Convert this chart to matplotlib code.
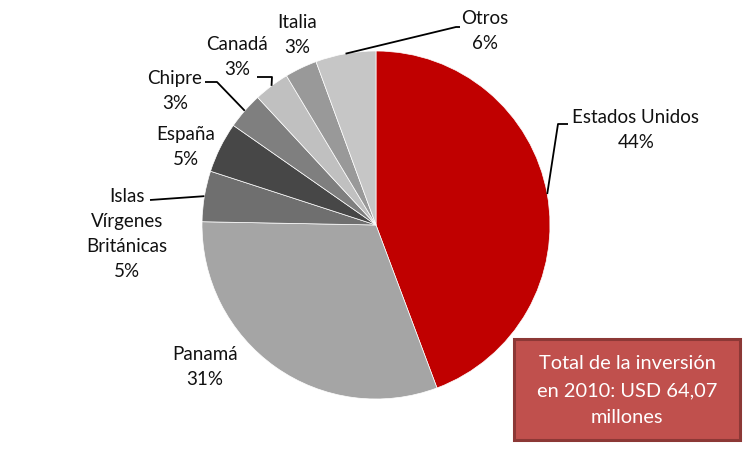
"""Pie chart: inversión por país de origen, 2010."""

import numpy as np
import matplotlib
matplotlib.use("Agg")
import matplotlib.pyplot as plt
from matplotlib.patches import FancyBboxPatch

plt.rcParams["font.family"] = ["Lato", "DejaVu Sans"]

# Data
countries = ["Estados Unidos", "Panamá", "Islas\nVírgenes\nBritánicas", "España",
             "Chipre", "Canadá", "Italia", "Otros"]
shares = [44.3, 31.0, 4.7, 4.7, 3.4, 3.3, 3.0, 5.6]
slice_colors = ["#C00000", "#A5A5A5", "#6F6F6F", "#474747",
                "#7F7F7F", "#C0C0C0", "#999999", "#C6C6C6"]
total_note = "Total de la inversión\nen 2010: USD 64,07\nmillones"

W, H = 752, 452
CX, CY, R = 376, 226, 174


def px(x, y):
    """Pixel position (from top-left) -> data coords of the pie axes."""
    return (x - CX) / R, (CY - y) / R


# label centres and leader elbows, in pixels
label_pos = [(636, 130), (205, 367), (127, 234), (186, 147),
             (175, 91), (237, 57), (297, 35), (485, 31)]
elbows = [[(558, 125), (568, 125)],
          None,
          [(150, 201)],
          None,
          [(217, 83), (205, 83)],
          [(272, 78), (257, 78)],
          None,
          [(456, 28), (460, 28)]]

fig = plt.figure(figsize=(W / 100, H / 100), dpi=100)
ax = fig.add_axes([0, 0, 1, 1])
ax.axis("off")

wedges, _ = ax.pie(shares, colors=slice_colors, startangle=90, counterclock=False,
                   radius=1, center=(0, 0),
                   wedgeprops=dict(edgecolor="white", linewidth=0.5))
ax.set_xlim(-CX / R, (W - CX) / R)
ax.set_ylim(-(H - CY) / R, CY / R)
ax.set_aspect("equal")

for w, name, v, pos, elb in zip(wedges, countries, shares, label_pos, elbows):
    tx, ty = px(*pos)
    ax.text(tx, ty, f"{name}\n{round(v)}%", ha="center", va="center",
            fontsize=13.5, color="#111111", linespacing=1.58)
    if elb:
        mid = np.deg2rad((w.theta1 + w.theta2) / 2)
        pts = [(np.cos(mid), np.sin(mid))] + [px(*p) for p in elb]
        xs, ys = zip(*pts)
        ax.plot(xs, ys, color="black", linewidth=1.3, solid_capstyle="butt")

# total box
x0, y0 = px(514, 441)
x1, y1 = px(740, 340)
box = FancyBboxPatch((x0, y0), x1 - x0, y1 - y0, boxstyle="square,pad=0",
                     facecolor="#C0504D", edgecolor="#8C3836", linewidth=2.2)
ax.add_patch(box)
ax.text((x0 + x1) / 2, (y0 + y1) / 2, total_note, ha="center", va="center",
        fontsize=14.4, color="white", linespacing=1.69)

fig.savefig("out.png", dpi=100)
